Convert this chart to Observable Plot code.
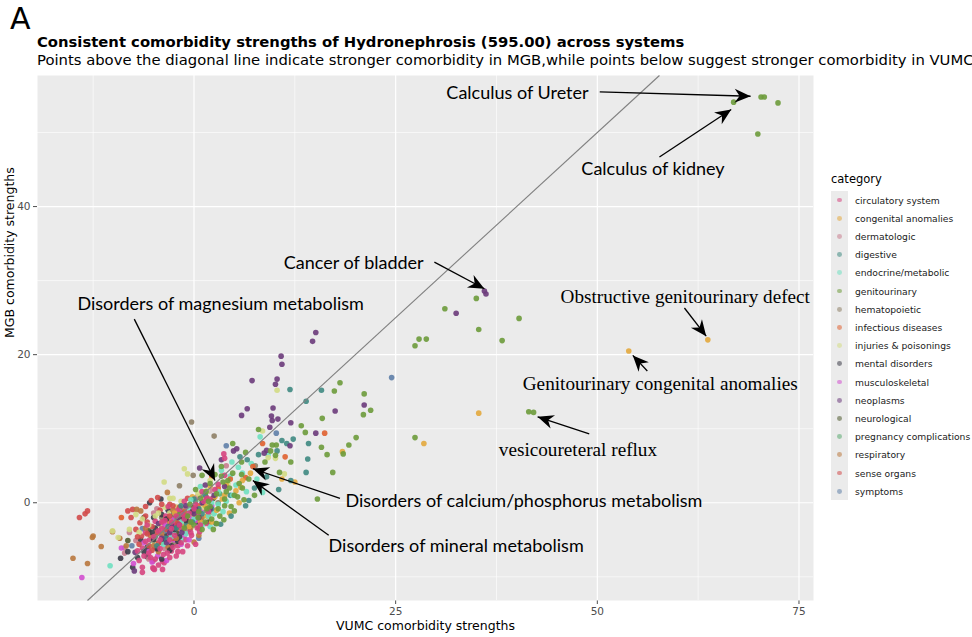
<!DOCTYPE html>
<html>
<head>
<meta charset="utf-8">
<script src="https://cdn.jsdelivr.net/npm/d3@7"></script>
<script src="https://cdn.jsdelivr.net/npm/@observablehq/plot@0.6"></script>
<style>
  html, body { margin: 0; padding: 0; background: #fff; }
  body { width: 972px; height: 637px; overflow: hidden; position: relative; font-family: "DejaVu Sans", sans-serif; }
  #tag { position: absolute; left: 10px; top: 4px; font-size: 30px; line-height: 1; color: #000; }
  #title { position: absolute; left: 37px; top: 34.5px; font-size: 14.8px; line-height: 1; font-weight: bold; white-space: nowrap; color: #000; }
  #subtitle { position: absolute; left: 37px; top: 52.5px; font-size: 14.8px; line-height: 1; white-space: nowrap; color: #000; }
  #chart { position: absolute; left: 0; top: 66px; }
  #legend { position: absolute; left: 831px; top: 172px; }
</style>
</head>
<body>
<div id="tag">A</div>
<div id="title">Consistent comorbidity strengths of Hydronephrosis (595.00) across systems</div>
<div id="subtitle">Points above the diagonal line indicate stronger comorbidity in MGB,while points below suggest stronger comorbidity in VUMC</div>
<div id="chart"></div>
<div id="legend"></div>
<script>
// ---------- data ----------
const categories = ["circulatory system","congenital anomalies","dermatologic","digestive","endocrine/metabolic","genitourinary","hematopoietic","infectious diseases","injuries & poisonings","mental disorders","musculoskeletal","neoplasms","neurological","pregnancy complications","respiratory","sense organs","symptoms"];
const colors = ["#d6457f","#e3a83d","#c87d8e","#3f8a82","#6fe0c1","#6d9b3b","#8e7f66","#e0602f","#d3dc84","#3b3a47","#d24fcf","#6c3b7b","#4f5a2e","#5aaa70","#b9783e","#d24b4b","#5f7fa8"];

const xTicks = [0, 25, 50, 75];
const yTicks = [0, 20, 40];
const xMinor = [-12.5, 12.5, 37.5, 62.5];
const yMinor = [-10, 10, 30, 50];
const xDomain = [-19.4, 76.8];
const yDomain = [-13.2, 57.7];

const circulatory = [[-6.4,-9.4],[-5.1,-8.8],[-3.9,-9.0],[-3.7,-8.1],[-5.1,-7.9],[-3.9,-7.9],[-4.9,-9.0],[-6.4,-8.7],[-6.4,-6.1],[-5.0,-8.9],[-2.8,-6.5],[-2.0,-5.8],[-4.5,-6.0],[-5.5,-5.0],[-3.0,-4.2],[-1.5,-3.5],[-2.5,-2.8],[-4.0,-3.5],[-6.0,-4.0],[-1.0,-5.0],[-0.5,-2.5],[0.5,-1.5],[-2.0,-1.0],[-3.5,-1.8],[-4.8,-2.5],[0.7,-3.9],[-0.3,-4.4],[1.5,-2.8],[2.0,0.5],[1.0,1.5],[-1.2,0.2],[-3.2,-0.5],[3.7,6.6],[3.8,6.0],[3.8,3.7],[-7.0,-6.5],[-2.2,-7.2],[-1.4,-6.6],[0.2,-5.6],[-5.8,-3.0],[-2.8,-3.5],[-0.8,-1.8],[1.2,0.2],[2.6,1.8],[-4.2,-5.0],[-3.3,-6.8],[-6.8,-7.8],[0.0,-0.8],[3.0,2.5],[1.8,-1.2],[-4.2,-6.2],[-3.0,-5.0],[-2.4,-4.4],[-1.8,-3.0],[-0.6,-1.4],[-3.6,-2.4],[-5.0,-4.6],[-2.6,-6.0],[-1.2,-2.2],[0.2,-0.2],[1.6,0.6],[-4.4,-3.8],[-2.2,-1.8],[-0.4,-4.0],[-5.6,-6.8],[-3.8,-7.0],[-1.6,-5.4],[0.8,-3.0],[-6.2,-7.2],[-4.8,-7.6],[-5.4,-7.4],[-4.4,-8.4],[-3.0,-7.4],[-2.0,-6.6],[-0.8,-5.8],[-4.0,-2.6],[-1.4,-1.6],[0.4,-3.4],[-6.0,-5.2],[-2.8,-2.6]];
const congenital = [[63.7,22.0],[53.9,20.5],[35.3,12.1],[28.5,8.0],[18.4,6.9],[10.9,3.2],[6.0,3.0],[2.0,2.2],[0.5,-0.8],[3.5,0.5],[-1.0,-2.2],[1.0,1.0],[4.4,-1.4],[-2.2,-0.6],[2.8,-1.0],[5.2,1.6],[-0.2,0.8],[-3.0,-2.5],[1.6,-1.8],[7.0,4.0],[12.5,2.8],[0.0,-1.6],[1.4,-0.4],[2.6,0.8],[-1.6,-3.0],[3.8,1.0],[-0.6,-3.2],[5.8,2.1],[2.2,-2.6],[4.0,2.4],[0.8,-2.6],[-2.4,-1.4],[5.6,0.0]];
const dermatologic = [[-8.6,-6.1],[-8.6,-6.8],[-8.0,-4.0],[-7.2,-5.1],[-5.0,-1.4],[-2.6,-3.2],[-1.2,-0.8],[0.8,-2.2],[-3.6,-6.2],[2.0,1.6],[-4.6,-0.8],[4.0,5.0],[-2.0,-2.4],[-4.0,-3.2],[0.4,0.8],[-5.6,-7.6],[-1.0,-3.8]];
const digestive = [[15.8,15.2],[13.9,13.7],[11.9,15.3],[14.2,8.0],[14.1,5.9],[13.9,4.1],[10.9,8.4],[11.5,8.0],[12.3,8.6],[5.7,6.2],[6.6,5.8],[6.8,0.3],[6.4,-0.4],[2.7,-2.8],[3.3,-2.9],[9.0,3.5],[10.5,1.8],[4.5,1.0],[1.0,-1.5],[-1.0,-3.0],[-2.5,-1.5],[7.5,2.0],[0.0,0.5],[-3.5,-4.8],[12.0,3.0],[8.0,6.5],[10.3,7.0],[-1.6,-0.4],[-3.2,-3.2],[0.6,-0.8],[2.2,-0.8],[-0.2,-2.6],[-4.6,-5.8],[4.6,-1.8],[1.4,1.0],[-2.2,-3.4]];
const endocrine = [[-10.4,-8.5],[8.2,8.9],[9.2,6.5],[7.1,5.3],[4.5,3.6],[4.7,5.5],[6.0,4.0],[5.2,2.4],[7.8,3.2],[3.0,1.5],[1.5,0.0],[2.5,-1.5],[-0.5,-1.0],[-2.5,-3.8],[0.8,2.2],[6.5,1.5],[4.0,0.2],[-1.5,-5.0],[2.0,-3.2],[5.5,4.8],[8.5,1.4],[-3.8,-5.6],[3.4,4.4],[0.0,-2.2],[-1.6,-2.6],[2.2,0.0],[1.2,1.2],[-2.8,-4.6],[3.0,-0.2],[-0.4,0.4],[1.0,-3.0],[3.6,-1.2],[4.8,1.0],[-1.0,-4.2],[1.8,-1.8]];
const genitourinary = [[70.3,54.8],[70.7,54.8],[66.9,54.1],[72.4,54.0],[69.9,49.8],[35.0,27.6],[40.3,24.9],[35.3,23.4],[38.2,21.9],[31.1,26.2],[27.9,22.1],[28.8,22.1],[27.4,21.2],[18.1,16.2],[17.4,15.1],[21.1,14.7],[21.9,12.5],[21.0,11.9],[15.9,11.4],[13.3,10.4],[13.8,9.5],[15.8,7.5],[20.1,8.8],[19.2,7.8],[18.5,6.6],[16.5,6.5],[17.2,4.1],[27.4,8.8],[41.5,12.3],[42.1,12.2],[8.0,9.9],[10.2,7.8],[6.4,6.8],[4.8,8.0],[10.6,4.1],[5.9,3.8],[5.9,5.5],[1.0,3.7],[2.6,3.8],[3.4,4.9],[5.0,-1.1],[3.7,-2.3],[6.0,2.0],[4.0,1.5],[2.0,-0.5],[0.5,-2.0],[3.0,-0.8],[7.5,1.0],[8.8,5.5],[1.5,1.5],[-0.5,-0.2],[2.2,-2.2],[4.6,-0.5],[-1.8,-1.6],[5.4,0.8],[0.0,-3.0],[6.8,3.2],[12.0,5.5],[9.5,7.0],[15.3,0.5],[9.7,7.8],[10.1,6.4],[3.8,0.5],[1.8,0.2],[2.8,1.2],[3.6,2.8],[4.4,2.0],[0.6,-1.2],[1.4,-2.6],[2.4,-3.6],[3.2,-1.8],[-0.8,-1.8],[0.2,1.8],[4.8,4.0],[5.6,2.6],[2.0,2.6],[1.0,-3.6],[-1.2,-3.4],[3.8,-0.4],[4.2,3.0],[5.0,1.0],[2.8,-2.8],[1.6,-0.8],[6.2,0.4],[0.8,0.6],[3.4,3.6],[-0.4,-2.6]];
const hematopoietic = [[-0.3,10.9],[2.5,9.0],[-0.1,3.7],[-1.8,2.3],[7.6,5.0],[-4.0,-2.0],[1.5,-1.0],[-1.0,-4.0],[3.0,0.0],[-2.5,-5.5]];
const infectious = [[-9.0,-2.0],[16.2,9.4],[8.5,8.0],[11.3,6.2],[7.3,4.9],[6.4,3.4],[3.0,2.0],[-1.0,-1.8],[1.5,0.8],[-3.5,-2.2],[4.5,3.2],[0.5,-0.4],[2.2,3.6],[-2.0,-3.4]];
const injuries = [[10.3,15.2],[8.5,9.7],[10.1,6.0],[9.2,6.1],[11.2,3.9],[-1.2,4.6],[-0.8,3.9],[-3.7,2.8],[-10.1,-3.8],[-9.4,-4.7],[-7.2,-1.6],[-8.0,-3.6],[-6.4,-2.2],[-4.2,-3.0],[-2.0,-0.6],[0.5,1.2],[2.0,3.0],[-5.0,-5.2],[-1.0,-2.6],[-3.0,-1.4],[4.2,2.6],[1.2,-0.6],[-2.6,0.6],[-4.8,-1.8],[-3.6,-0.6],[-1.6,0.2],[0.0,-1.2],[-5.6,-3.0],[1.6,1.6],[-6.8,-4.0],[-3.0,0.6],[-4.4,-1.4]];
const mental = [[-9.1,-7.5],[-7.6,-8.7],[-8.2,-6.6],[-5.8,-7.3],[-5.5,0.0],[-4.1,0.5],[-5.8,-6.0],[-4.8,-3.4],[-3.4,-4.4],[-2.2,-3.0],[-6.6,-5.0],[-1.4,-2.2],[-4.0,-1.6],[-2.8,-5.8],[-0.6,-3.6],[-5.0,-2.0],[-3.2,-1.0],[-7.0,-7.4],[0.4,-2.6],[-1.8,-4.6],[-3.8,-5.0],[-2.4,-3.6],[-4.6,-6.2],[-1.0,-2.4],[-5.2,-4.0],[-2.0,-5.2],[-3.4,-2.2],[-0.2,-1.2],[-6.2,-6.6],[-4.0,-7.6],[-3.0,-6.4],[-5.0,-5.0]];
const musculoskeletal = [[-13.9,-10.1],[-7.5,-8.2],[-9.0,-6.1],[-4.5,-7.2],[-3.2,-5.3],[-2.0,-4.2],[-5.6,-6.6],[-1.0,-3.2],[-0.2,-2.0],[-2.8,-2.2],[-4.0,-4.6],[0.8,-1.0],[-6.2,-5.4],[-1.6,-5.6],[2.2,-0.4],[-3.6,-3.0],[-2.4,-5.0],[-4.8,-6.0],[-1.2,-4.4],[-3.0,-3.6],[0.2,-2.4],[-1.8,-1.2],[-3.4,-7.8],[-5.2,-8.0],[-0.6,-5.0]];
const neoplasms = [[36.0,28.6],[36.2,28.2],[32.5,25.6],[15.1,23.0],[14.7,21.8],[10.8,19.8],[10.9,18.7],[7.2,16.5],[10.3,16.7],[10.1,16.0],[21.1,13.2],[17.5,12.4],[6.6,12.7],[5.9,11.8],[9.8,12.8],[9.6,11.7],[9.7,11.1],[10.4,11.3],[12.0,10.8],[9.4,10.2],[15.1,9.4],[11.9,7.7],[9.0,7.1],[8.7,6.7],[4.9,7.0],[5.3,7.3],[3.4,5.8],[0.7,4.7],[-7.4,-9.2],[-7.3,-6.7],[-2.0,-2.0],[1.0,0.0],[-3.0,-4.0],[0.0,-1.5],[2.5,1.0],[-1.5,-4.0],[-4.4,-2.8],[3.8,2.2],[-1.0,-0.4],[-2.8,-3.0],[0.6,-2.0],[2.0,-0.8],[-4.0,-4.8],[1.4,2.4],[-1.8,-3.0],[0.2,-0.8],[-3.4,-5.4]];
const neurological = [[-8.2,-5.1],[-6.2,-2.0],[-4.0,-5.4],[-1.6,-1.0],[0.6,-3.4],[2.4,0.6],[-3.0,-2.6],[-5.6,-3.8],[1.2,-0.2],[-0.6,-2.8],[-2.2,-4.0],[-0.2,-0.6],[1.8,-2.6]];
const pregnancy = [[-2.5,-2.0],[0.2,0.2],[-4.8,-4.6],[1.8,-1.4],[-1.0,-3.8],[3.2,1.2]];
const respiratory = [[-15.0,-7.5],[-13.2,-8.2],[-12.5,-4.5],[-12.6,-4.7],[-11.5,-5.9],[-10.1,-3.9],[-9.2,-4.8],[-8.4,-5.8],[-7.1,-0.9],[-6.6,-1.1],[-3.3,1.4],[0.0,-5.3],[-4.4,-6.6],[-3.0,-3.0],[-1.2,-1.2],[-5.4,-4.4],[1.0,-2.0],[-2.0,-2.4],[0.6,-4.4],[-6.0,-3.4],[-4.0,-4.2],[-2.6,-1.0],[-0.4,-3.4],[-3.2,-6.0],[1.8,-1.6],[-2.2,-4.8],[-5.0,-5.8],[0.4,-1.0]];
const senseOrgans = [[-14.2,-2.0],[-13.5,-1.5],[-13.2,-1.1],[-8.2,-1.1],[-7.6,-0.9],[-7.8,-2.0],[-6.7,-2.7],[-5.3,0.3],[-4.5,0.7],[-6.0,-1.8],[-5.2,-3.2],[-4.2,-1.0],[-3.0,-0.2],[-6.5,-4.5],[-3.8,-2.6],[-2.4,-1.6],[-5.6,-5.8],[-7.2,-3.6],[-1.8,-0.6],[-4.6,-4.0],[-0.8,0.6],[-2.6,-4.8],[-6.0,-0.5],[-3.4,-3.6],[-5.8,-2.6],[-4.4,-5.4],[-2.0,-2.8],[-1.4,-1.4],[-6.8,-5.6],[-3.0,-1.8],[-5.2,-6.4],[-7.0,-4.6],[-4.0,-0.2],[-5.8,-4.2],[-2.6,-0.4]];
const symptoms = [[24.5,16.9],[10.2,9.4],[4.0,7.7],[-7.7,-5.8],[-6.4,-3.5],[-1.5,-1.8],[2.0,-1.0],[0.6,-4.8],[-3.6,-3.8]];

const seriesByCategory = [circulatory, congenital, dermatologic, digestive, endocrine, genitourinary, hematopoietic, infectious, injuries, mental, musculoskeletal, neoplasms, neurological, pregnancy, respiratory, senseOrgans, symptoms];

// annotations (data coordinates): label position, arrow start and tip
const annotationLabels = ["Calculus of Ureter","Calculus of kidney","Cancer of bladder","Obstructive genitourinary defect","Genitourinary congenital anomalies","vesicoureteral reflux","Disorders of magnesium metabolism","Disorders of calcium/phosphorus metabolism","Disorders of mineral metabolism"];
const annotationSerif = [false,false,false,true,true,true,false,false,false];
const annotationX = [40.1,56.9,19.8,60.9,57.8,47.6,3.3,40.9,32.5];
const annotationY = [55.3,45.1,32.4,27.8,16.0,7.2,26.8,0.2,-5.9];
const arrowFromX = [50.3,57.7,29.8,60.8,56.2,49.0,-7.4,18.1,16.7];
const arrowFromY = [55.5,46.7,32.5,26.3,17.8,9.3,24.8,0.6,-4.4];
const arrowToX = [69.0,66.6,36.0,63.5,54.4,42.6,2.6,7.3,7.3];
const arrowToY = [54.9,53.1,28.9,22.5,19.9,11.6,3.0,4.6,3.0];

// ---------- build tables ----------
const rows = [];
const maxLen = d3.max(seriesByCategory, s => s.length);
for (let i = 0; i < maxLen; i++) {
  seriesByCategory.forEach((s, k) => {
    if (i < s.length) rows.push({x: s[i][0], y: s[i][1], category: categories[k]});
  });
}
const annotations = annotationLabels.map((label, i) => ({
  label, serif: annotationSerif[i], x: annotationX[i], y: annotationY[i],
  x1: arrowFromX[i], y1: arrowFromY[i], x2: arrowToX[i], y2: arrowToY[i]
}));
const dLo = Math.max(xDomain[0], yDomain[0]);
const dHi = Math.min(xDomain[1], yDomain[1]);
const diagonal = [{x1: dLo, y1: dLo, x2: dHi, y2: dHi}];

function arrowMarker(color, context) {
  const doc = (context && context.document) || document;
  const ns = "http://www.w3.org/2000/svg";
  const m = doc.createElementNS(ns, "marker");
  m.setAttribute("viewBox", "-17 -8 18 16");
  m.setAttribute("markerWidth", "18");
  m.setAttribute("markerHeight", "16");
  m.setAttribute("markerUnits", "userSpaceOnUse");
  m.setAttribute("refX", "0");
  m.setAttribute("refY", "0");
  m.setAttribute("orient", "auto");
  const p = doc.createElementNS(ns, "path");
  p.setAttribute("d", "M0,0L-16,-7L-11,0L-16,7Z");
  p.setAttribute("fill", "#000");
  p.setAttribute("stroke", "none");
  m.appendChild(p);
  return m;
}

const chart = Plot.plot({
  width: 820,
  height: 571,
  marginLeft: 37,
  marginRight: 7,
  marginTop: 9,
  marginBottom: 37,
  style: {fontFamily: "DejaVu Sans", fontSize: "10.5px", color: "#4d4d4d", background: "transparent", overflow: "visible"},
  x: {domain: xDomain, ticks: xTicks, tickSize: 4, tickPadding: 3, label: null, tickFormat: d => String(d)},
  y: {domain: yDomain, ticks: yTicks, tickSize: 4, tickPadding: 3, label: null, tickFormat: d => String(d)},
  color: {domain: categories, range: colors},
  marks: [
    Plot.frame({fill: "#ebebeb", stroke: null}),
    Plot.ruleX(xMinor, {stroke: "#ffffff", strokeWidth: 0.6}),
    Plot.ruleY(yMinor, {stroke: "#ffffff", strokeWidth: 0.6}),
    Plot.ruleX(xTicks, {stroke: "#ffffff", strokeWidth: 1.2}),
    Plot.ruleY(yTicks, {stroke: "#ffffff", strokeWidth: 1.2}),
    Plot.dot(rows, {x: "x", y: "y", fill: "category", r: 2.8, stroke: null, fillOpacity: 0.9}),
    Plot.link(diagonal, {x1: "x1", y1: "y1", x2: "x2", y2: "y2", stroke: "#808080", strokeWidth: 1.1}),
    Plot.link(annotations, {x1: "x1", y1: "y1", x2: "x2", y2: "y2", stroke: "#000", strokeWidth: 1.3, markerEnd: arrowMarker}),
    Plot.text(annotations.filter(d => !d.serif), {x: "x", y: "y", text: "label", fill: "#000", fontFamily: "Lato", fontSize: 18, textAnchor: "middle"}),
    Plot.text(annotations.filter(d => d.serif), {x: "x", y: "y", text: "label", fill: "#000", fontFamily: "Liberation Serif", fontSize: 19.2, textAnchor: "middle"}),
    Plot.text(["VUMC comorbidity strengths"], {frameAnchor: "bottom", lineAnchor: "middle", dy: 25, fill: "#000", fontSize: 12.5, fontFamily: "DejaVu Sans"}),
    Plot.text(["MGB comorbidity strengths"], {frameAnchor: "left", dx: -28, rotate: -90, fill: "#000", fontSize: 12.5, fontFamily: "DejaVu Sans"})
  ]
});
document.getElementById("chart").appendChild(chart);

// ---------- legend ----------
const legend = d3.select("#legend");
legend.append("div")
  .style("position", "absolute").style("left", "0px").style("top", "2px")
  .style("font-size", "11.5px").style("line-height", "1").style("color", "#000").style("white-space", "nowrap")
  .text("category");
legend.append("div")
  .style("position", "absolute").style("left", "0px").style("top", "19px")
  .style("width", "17px").style("height", `${categories.length * 18.2}px`)
  .style("background", "#ebebeb");
categories.forEach((c, i) => {
  const cy = 28 + i * 18.2;
  legend.append("div")
    .style("position", "absolute").style("left", `${8.5 - 2.4}px`).style("top", `${cy - 2.4}px`)
    .style("width", "4.8px").style("height", "4.8px").style("border-radius", "50%")
    .style("background", colors[i]).style("opacity", "0.55");
  legend.append("div")
    .style("position", "absolute").style("left", "24px").style("top", `${cy - 5.5}px`)
    .style("font-size", "9.2px").style("line-height", "11px").style("color", "#1a1a1a").style("white-space", "nowrap")
    .text(c);
});
</script>
</body>
</html>
